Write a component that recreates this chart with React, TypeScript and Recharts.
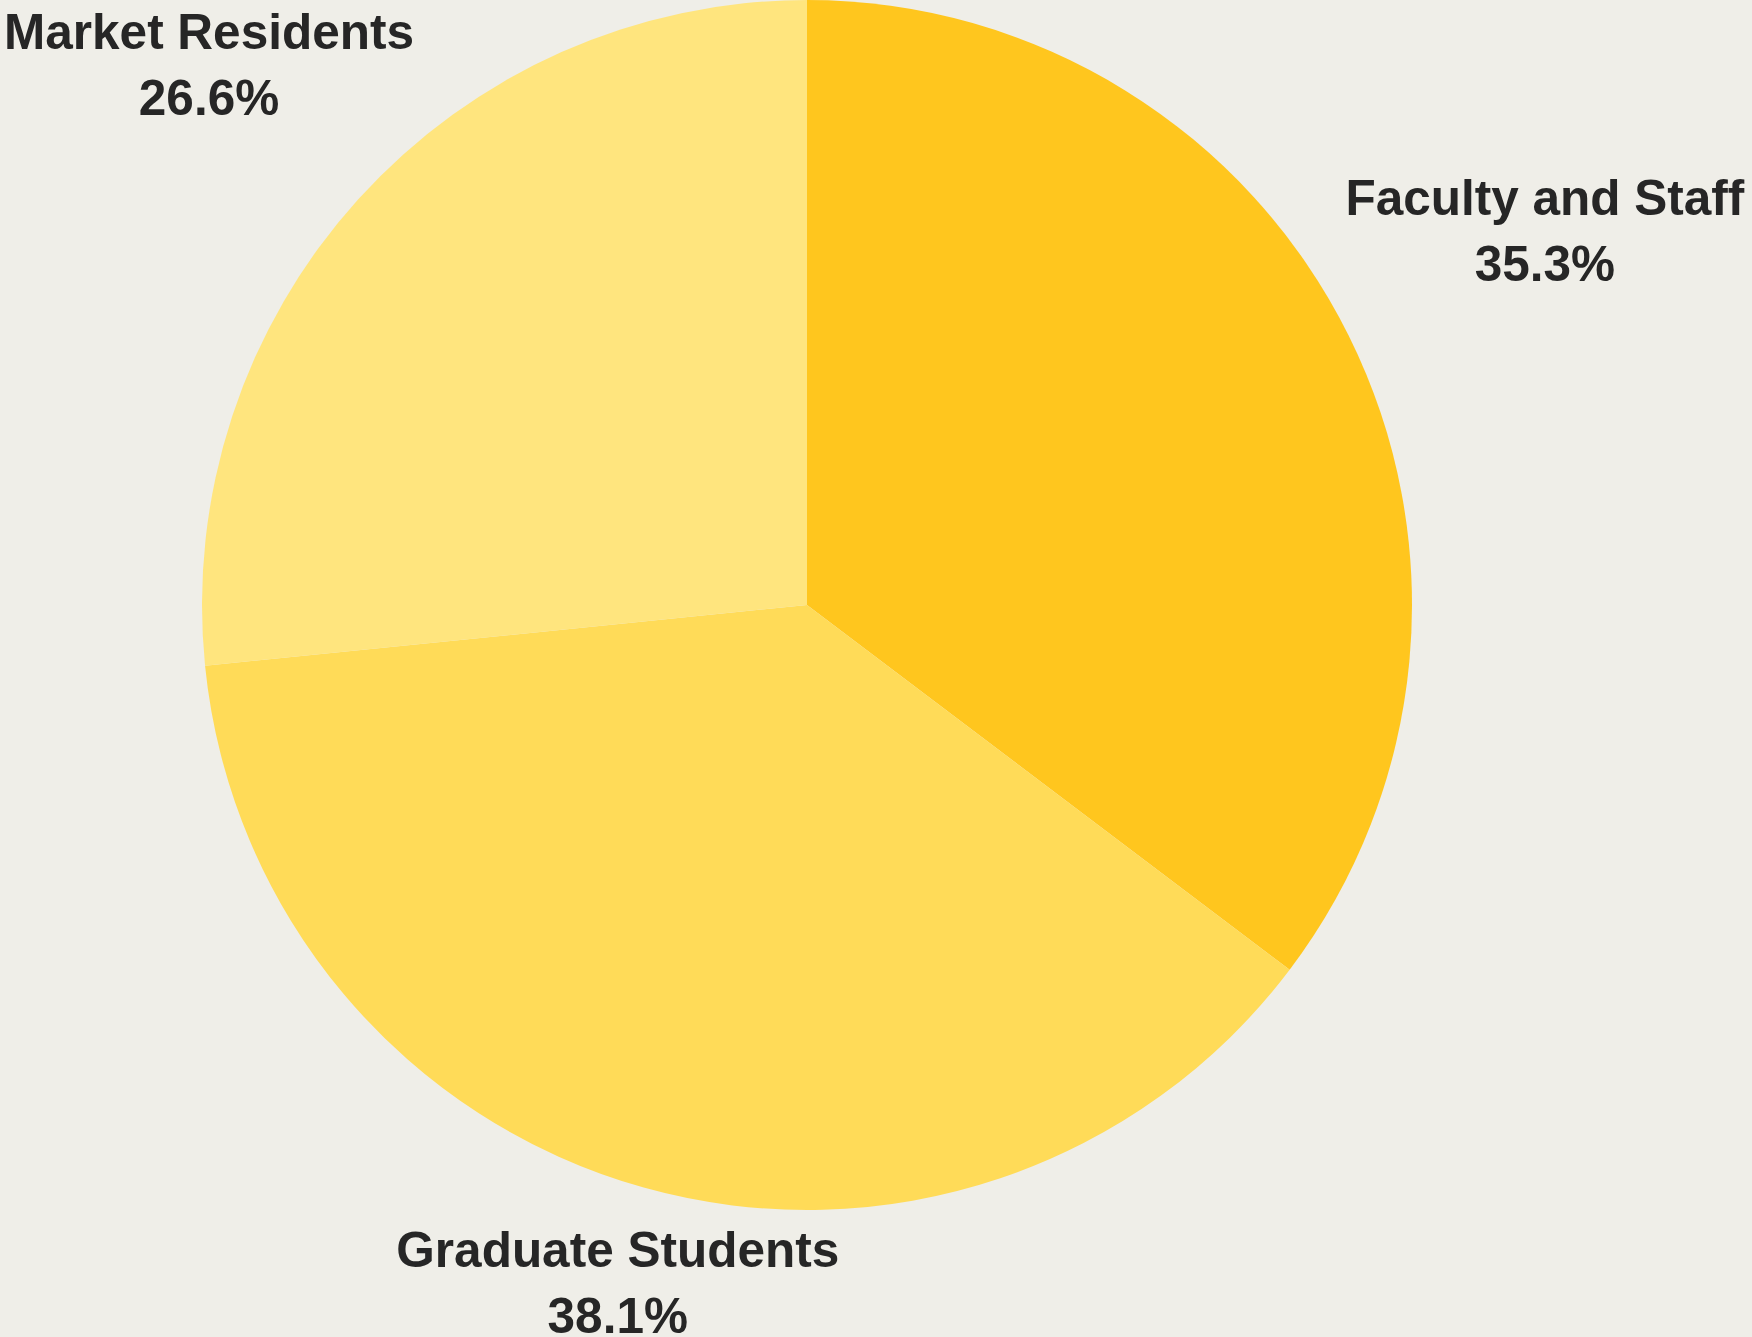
import React from "react";
import { PieChart, Pie, Cell } from "recharts";

const categories = ["Faculty and Staff", "Graduate Students", "Market Residents"];
const shares = [35.3, 38.1, 26.6];
const colors = ["#FFC61E", "#FFDB58", "#FFE57E"];
const labelRadius = [820, 719, 795];
const labelAngleShift = [-0.6, 0.4, 0.9];

const data = categories.map((name, i) => ({ name, value: shares[i] }));

const RAD = Math.PI / 180;

const renderLabel = (props: any) => {
  const { cx, cy, midAngle, index } = props;
  const r = labelRadius[index];
  const a = midAngle + labelAngleShift[index];
  const x = cx + r * Math.cos(-a * RAD);
  const y = cy + r * Math.sin(-a * RAD);
  return (
    <text
      x={x}
      y={y}
      textAnchor="middle"
      fill="#262626"
      fontFamily="'Liberation Sans', Arial, sans-serif"
      fontWeight={700}
      fontSize={49.5}
    >
      <tspan x={x} y={y - 32}>{categories[index]}</tspan>
      <tspan x={x} y={y + 34}>{shares[index].toFixed(1)}%</tspan>
    </text>
  );
};

export default function App() {
  return (
    <div style={{ position: "fixed", left: 0, top: 0, width: 1752, height: 1337, background: "#EFEEE8" }}>
      <PieChart width={1752} height={1337}>
        <Pie
          data={data}
          dataKey="value"
          nameKey="name"
          cx={802}
          cy={600}
          outerRadius={605}
          startAngle={90}
          endAngle={-270}
          stroke="none"
          label={renderLabel}
          labelLine={false}
          isAnimationActive={false}
        >
          {data.map((d, i) => (
            <Cell key={d.name} fill={colors[i]} />
          ))}
        </Pie>
      </PieChart>
    </div>
  );
}
